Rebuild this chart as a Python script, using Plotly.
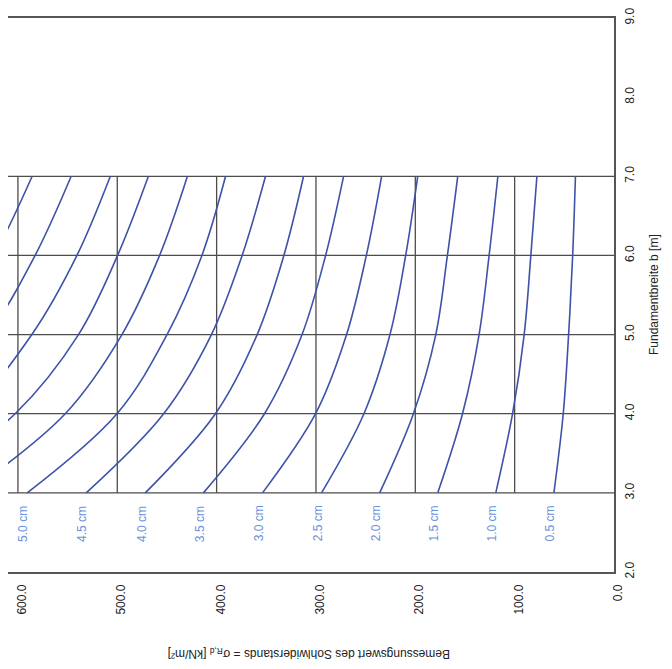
import plotly.graph_objects as go

# Settlement curves s [cm]; design bearing resistance sigma_R,d [kN/m2] read at b = 3..7 m
settlement_cm = [0.5, 1.0, 1.5, 2.0, 2.5, 3.0, 3.5, 4.0, 4.5, 5.0, 5.5, 6.0, 6.5, 7.0, 7.5]
b_values = [3.0, 4.0, 5.0, 6.0, 7.0]
sigma_b3 = [60.5, 119.0, 177.4, 235.9, 294.4, 353.8, 413.3, 471.8, 531.3, 590.7, 650.0, 709.0, 768.0, 827.0, 886.0]
sigma_b4 = [51.1, 102.1, 152.5, 201.9, 251.7, 300.4, 351.8, 401.2, 453.3, 500.3, 552.4, 602.8, 652.0, 702.0, 752.0]
sigma_b5 = [45.7, 90.4, 135.8, 179.4, 225.5, 269.2, 314.0, 359.2, 405.2, 449.9, 495.3, 539.0, 586.0, 630.0, 675.0]
sigma_b6 = [41.6, 83.7, 125.7, 167.7, 209.7, 249.3, 290.3, 332.3, 374.3, 414.8, 457.4, 499.7, 540.6, 582.7, 624.0]
sigma_b7 = [38.8, 77.6, 116.9, 157.3, 197.6, 233.9, 272.2, 312.5, 350.8, 391.0, 429.4, 468.7, 507.0, 546.4, 585.7]

x_ticks = [0, 100, 200, 300, 400, 500, 600]
x_tick_labels = ["0.0", "100.0", "200.0", "300.0", "400.0", "500.0", "600.0"]
y_ticks = [2, 3, 4, 5, 6, 7, 8, 9]
y_tick_labels = ["2.0", "3.0", "4.0", "5.0", "6.0", "7.0", "8.0", "9.0"]
grid_b = [3, 4, 5, 6, 7]
grid_sigma = [100, 200, 300, 400, 500, 600]

X_MAX = 610
FONT = "Liberation Sans, Arial, sans-serif"
CURVE_COLOR = "rgb(62,82,168)"
LABEL_COLOR = "rgb(105,145,220)"
GRID_COLOR = "#4d4d4d"

PLOT_W = 606
PLOT_H = 562

fig = go.Figure()

for i, s in enumerate(settlement_cm):
    xs = [sigma_b3[i], sigma_b4[i], sigma_b5[i], sigma_b6[i], sigma_b7[i]]
    fig.add_trace(go.Scatter(
        x=xs, y=b_values, mode="lines",
        line=dict(color=CURVE_COLOR, width=1.6, shape="spline", smoothing=1.0),
        showlegend=False, hoverinfo="skip", name=f"{s:.1f} cm",
    ))
    if sigma_b3[i] < X_MAX:
        fig.add_annotation(
            x=sigma_b3[i], y=2.61, xref="x", yref="y",
            text=f"{s:.1f} cm", textangle=-90, showarrow=False,
            xshift=-4, font=dict(family=FONT, size=12, color=LABEL_COLOR),
        )

shapes = []
for b in grid_b:
    shapes.append(dict(type="line", xref="paper", yref="y", x0=0, x1=1, y0=b, y1=b,
                       line=dict(color=GRID_COLOR, width=1.3), layer="below"))
for sv in grid_sigma:
    shapes.append(dict(type="line", xref="x", yref="y", x0=sv, x1=sv, y0=grid_b[0], y1=grid_b[-1],
                       line=dict(color=GRID_COLOR, width=1.3), layer="below"))

fig.update_layout(
    width=672, height=669,
    margin=dict(l=0, r=672 - PLOT_W, t=2, b=669 - 2 - PLOT_H),
    paper_bgcolor="white", plot_bgcolor="white",
    shapes=shapes,
    font=dict(family=FONT, size=12, color="#222"),
    xaxis=dict(
        range=[X_MAX, 0], tickvals=x_ticks, ticktext=x_tick_labels,
        tickangle=-90, showgrid=False, zeroline=False,
        showline=True, linecolor="#555", linewidth=1.5, mirror=True,
        ticks="", ticklabelstandoff=6, ticklabelshift=-4,
        tickfont=dict(family=FONT, size=12, color="#222"),
    ),
    yaxis=dict(
        range=[2, 9], side="right", tickvals=y_ticks, ticktext=y_tick_labels,
        tickangle=-90, showgrid=False, zeroline=False,
        showline=True, linecolor="#555", linewidth=1.5,
        ticks="", ticklabelstandoff=4, ticklabeloverflow="allow",
        tickfont=dict(family=FONT, size=12, color="#222"),
    ),
)

fig.add_annotation(
    x=655 / PLOT_W, y=0.5, xref="paper", yref="paper",
    text="Fundamentbreite b [m]", textangle=-90, showarrow=False,
    font=dict(family=FONT, size=12, color="#222"),
)
fig.add_annotation(
    x=158 / PLOT_W, y=(564 - 657) / PLOT_H, xref="paper", yref="paper",
    text="Bemessungswert des Sohlwiderstands = σ<sub>R,d</sub> [kN/m²]",
    textangle=180, showarrow=False,
    font=dict(family=FONT, size=12, color="#222"),
)

fig.write_html("out.html")
